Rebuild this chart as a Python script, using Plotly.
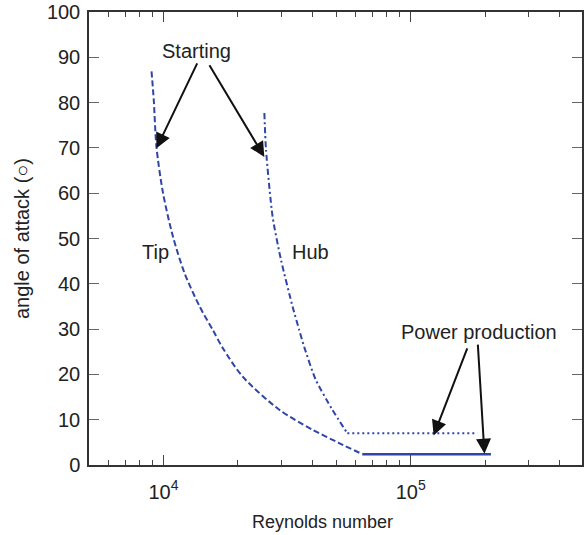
import math
import plotly.graph_objects as go

# ---- data ----
tip_re = [8950, 9140, 9371, 9963, 10930, 12183, 14004, 15840, 17380, 20920, 29400, 40050, 51290, 63670]
tip_aoa = [86.9, 80.5, 70.2, 60.0, 50.4, 42.3, 35.0, 29.8, 25.8, 19.5, 12.2, 7.8, 4.85, 2.4]

hub_re = [25590, 25990, 27630, 29870, 33270, 35400, 37060, 41300, 48200, 55400]
hub_aoa = [77.7, 69.5, 54.8, 45.3, 35.0, 29.8, 26.1, 18.8, 12.2, 7.0]

hub_power_re = [55400, 186000]
hub_power_aoa = [7.0, 7.0]

tip_power_re = [63670, 211000]
tip_power_aoa = [2.4, 2.4]

x_major = [1e4, 1e5]
x_major_text = ["10<sup>4</sup>", "10<sup>5</sup>"]
x_minor = [6000, 7000, 8000, 9000, 2e4, 3e4, 4e4, 5e4, 6e4, 7e4, 8e4, 9e4, 2e5, 3e5, 4e5]
y_ticks = list(range(0, 101, 10))

BLUE = "#2f45a8"
FONT = "Liberation Sans, Arial, sans-serif"
TXT = "#222222"

fig = go.Figure()
fig.add_trace(go.Scatter(x=tip_re, y=tip_aoa, mode="lines",
                         line=dict(color=BLUE, width=2, dash="6px,3px", shape="spline", smoothing=0.8),
                         name="Tip"))
fig.add_trace(go.Scatter(x=hub_re, y=hub_aoa, mode="lines",
                         line=dict(color=BLUE, width=2, dash="6px,3px,2px,3px", shape="spline", smoothing=0.6),
                         name="Hub"))
fig.add_trace(go.Scatter(x=hub_power_re, y=hub_power_aoa, mode="lines",
                         line=dict(color=BLUE, width=2, dash="2px,3px"), name="Hub power"))
fig.add_trace(go.Scatter(x=tip_power_re, y=tip_power_aoa, mode="lines",
                         line=dict(color=BLUE, width=2.5), name="Tip power"))

L = math.log10

def arrow(head_re, head_y, tail_re, tail_y):
    fig.add_annotation(x=L(head_re), y=head_y, ax=L(tail_re), ay=tail_y,
                       xref="x", yref="y", axref="x", ayref="y",
                       text="", showarrow=True, arrowhead=2, arrowsize=1.5,
                       arrowwidth=2, arrowcolor="#111111", standoff=0, startstandoff=0)

arrow(10**3.9718, 69.9, 10**4.1393, 89.0)
arrow(10**4.408, 68.0, 10**4.1824, 88.6)
arrow(10**5.0926, 6.5, 10**5.2308, 26.1)
arrow(10**5.298, 2.5, 10**5.271, 26.9)

def label(txt, re, y):
    fig.add_annotation(x=L(re), y=y, xref="x", yref="y", text=txt, showarrow=False,
                       font=dict(family=FONT, size=20, color=TXT))

label("Starting", 10**4.134, 91.4)
label("Power production", 10**5.274, 29.4)
label("Tip", 10**3.967, 47.1)
label("Hub", 10**4.593, 47.0)

fig.add_annotation(xref="paper", yref="paper", x=(323 - 89) / 495, y=-0.125,
                   text="Reynolds number", showarrow=False, yanchor="middle",
                   font=dict(family=FONT, size=18, color=TXT))

fig.update_layout(
    width=584, height=535,
    margin=dict(l=89, r=0, t=12, b=70),
    paper_bgcolor="white", plot_bgcolor="white",
    showlegend=False,
    font=dict(family=FONT, size=20, color=TXT),
    xaxis=dict(type="log", range=[L(5000), 5.6925],
               tickvals=x_major, ticktext=x_major_text,
               ticks="inside", ticklen=10, tickwidth=1.2, tickcolor="#444444",
               showline=True, linecolor="#333333", linewidth=1.5, mirror="ticks",
               showgrid=False, zeroline=False,
               minor=dict(tickvals=x_minor, ticks="inside", ticklen=5, tickwidth=1,
                          tickcolor="#444444", showgrid=False),
               tickfont=dict(family=FONT, size=20, color=TXT),
               ticklabelstandoff=8),
    yaxis=dict(range=[0, 100], tickvals=y_ticks,
               ticks="inside", ticklen=10, tickwidth=1.2, tickcolor="#666666",
               showline=True, linecolor="#333333", linewidth=1.5, mirror="ticks",
               showgrid=False, zeroline=False,
               title=dict(text="angle of attack (○)", standoff=12,
                          font=dict(family=FONT, size=20, color=TXT)),
               tickfont=dict(family=FONT, size=20, color=TXT),
               ticklabelstandoff=3),
)

fig.write_html("out.html")
